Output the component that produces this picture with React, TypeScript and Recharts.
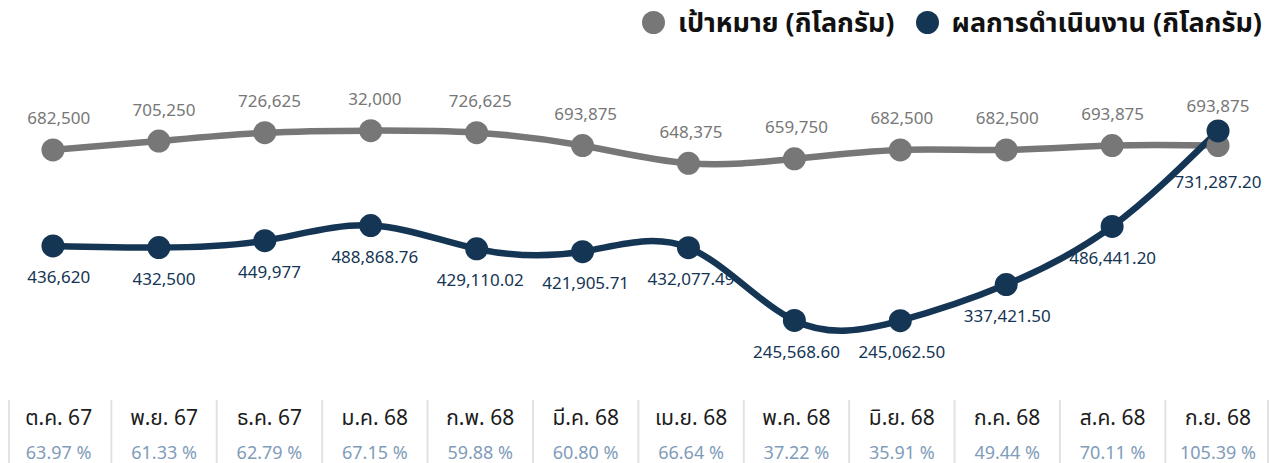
import { LineChart, Line, XAxis, YAxis, LabelList } from "recharts";

const MONTHS = [
  "ต.ค. 67", "พ.ย. 67", "ธ.ค. 67", "ม.ค. 68", "ก.พ. 68", "มี.ค. 68",
  "เม.ย. 68", "พ.ค. 68", "มิ.ย. 68", "ก.ค. 68", "ส.ค. 68", "ก.ย. 68",
];
const TARGET = [682500, 705250, 726625, 732000, 726625, 693875, 648375, 659750, 682500, 682500, 693875, 693875];
// label text as printed on the chart (Jan label shows "32,000")
const TARGET_LABELS = ["682,500", "705,250", "726,625", "32,000", "726,625", "693,875", "648,375", "659,750", "682,500", "682,500", "693,875", "693,875"];
const ACTUAL = [436620, 432500, 449977, 488868.76, 429110.02, 421905.71, 432077.49, 245568.6, 245062.5, 337421.5, 486441.2, 731287.2];
const PERCENT = [63.97, 61.33, 62.79, 67.15, 59.88, 60.8, 66.64, 37.22, 35.91, 49.44, 70.11, 105.39];

const data = MONTHS.map((month, i) => ({
  month,
  target: TARGET[i],
  actual: ACTUAL[i],
}));

const GRAY = "#777777";
const NAVY = "#153554";
const FONT = "'Noto Sans', 'Noto Sans Thai', sans-serif";

// text/table sits a few px right of the points on the left side
const shift = (i: number) => 5.7 - 0.52 * i;

const fmtActual = (v: number) =>
  Number.isInteger(v)
    ? v.toLocaleString("en-US")
    : v.toLocaleString("en-US", { minimumFractionDigits: 2, maximumFractionDigits: 2 });

function TargetLabel(props: any) {
  const { x, y, index } = props;
  const dy = index === 11 ? -40 : -32;
  return (
    <text x={x + shift(index)} y={y + dy} textAnchor="middle" dominantBaseline="central"
      fill={GRAY} fontSize={17} fontFamily={FONT}>
      {TARGET_LABELS[index]}
    </text>
  );
}

function ActualLabel(props: any) {
  const { x, y, index } = props;
  const dy = index === 11 ? 51 : 31;
  return (
    <text x={x + shift(index)} y={y + dy} textAnchor="middle" dominantBaseline="central"
      fill={NAVY} fontSize={17} fontFamily={FONT}>
      {fmtActual(ACTUAL[index])}
    </text>
  );
}

function MonthTick(props: any) {
  const { x, y, payload } = props;
  const i = payload.index;
  const cx = x + shift(i);
  const left = i === 0 ? 9 : cx - 52.7;
  return (
    <g>
      <line x1={left} x2={left} y1={y + 20} y2={y + 83} stroke="#e2e2e2" strokeWidth={2} />
      {i === 11 && (
        <line x1={1268} x2={1268} y1={y + 20} y2={y + 83} stroke="#e2e2e2" strokeWidth={2} />
      )}
      <text x={cx} y={y + 37} textAnchor="middle" dominantBaseline="central"
        fill="#1c1c1c" fontSize={21} fontFamily={FONT}>
        {MONTHS[i]}
      </text>
      <text x={cx} y={y + 72} textAnchor="middle" dominantBaseline="central"
        fill="#7f9cba" fontSize={18} fontFamily={FONT}>
        {PERCENT[i].toFixed(2)} %
      </text>
    </g>
  );
}

function LegendItem({ color, label }: { color: string; label: string }) {
  return (
    <div style={{ display: "flex", alignItems: "center", marginLeft: 21 }}>
      <span style={{ width: 23, height: 23, borderRadius: "50%", background: color, marginRight: 13 }} />
      <span style={{ fontSize: 27, fontWeight: 700, color: "#111" }}>{label}</span>
    </div>
  );
}

export default function App() {
  return (
    <div style={{ position: "relative", width: 1271, height: 463, fontFamily: FONT, background: "#fff" }}>
      <style>{"body{margin:0}"}</style>
      <div style={{ position: "absolute", top: 4, right: 9, display: "flex", lineHeight: "36px" }}>
        <LegendItem color={GRAY} label="เป้าหมาย (กิโลกรัม)" />
        <LegendItem color={NAVY} label="ผลการดำเนินงาน (กิโลกรัม)" />
      </div>
      <LineChart width={1271} height={463} data={data}
        margin={{ top: 60, right: 0, left: 0, bottom: 0 }}>
        <XAxis dataKey="month" scale="band" height={83} axisLine={false} tickLine={false}
          tickSize={0} tickMargin={0} interval={0} tick={<MonthTick />} />
        <YAxis hide domain={[93000, 913000]} />
        <Line type="natural" dataKey="target" stroke={GRAY} strokeWidth={6.5}
          dot={{ r: 11.5, fill: GRAY, stroke: "none" }} activeDot={false} isAnimationActive={false}>
          <LabelList dataKey="target" content={<TargetLabel />} />
        </Line>
        <Line type="natural" dataKey="actual" stroke={NAVY} strokeWidth={6.5}
          dot={{ r: 11.5, fill: NAVY, stroke: "none" }} activeDot={false} isAnimationActive={false}>
          <LabelList dataKey="actual" content={<ActualLabel />} />
        </Line>
      </LineChart>
    </div>
  );
}
